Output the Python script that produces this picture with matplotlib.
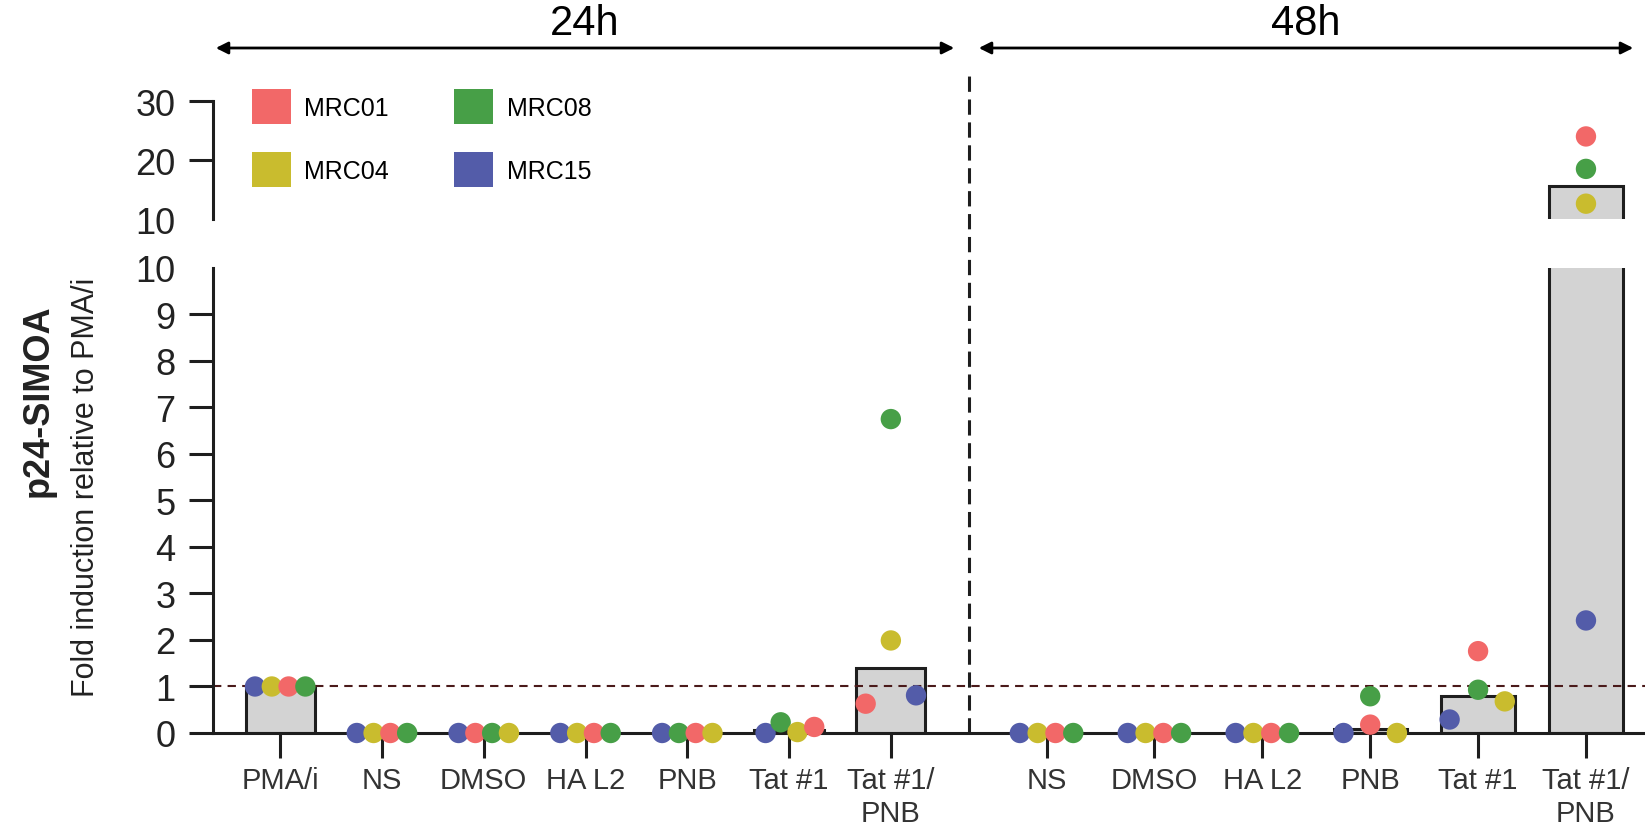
import numpy as np
import matplotlib
matplotlib.use("Agg")
import matplotlib.pyplot as plt
from matplotlib.patches import Patch, FancyArrowPatch
from matplotlib.lines import Line2D
from matplotlib.transforms import blended_transform_factory

plt.rcParams['font.family'] = ['Liberation Sans', 'DejaVu Sans']

# categories
cats_24h = ['PMA/i', 'NS', 'DMSO', 'HA L2', 'PNB', 'Tat #1', 'Tat #1/\nPNB']
cats_48h = ['NS', 'DMSO', 'HA L2', 'PNB', 'Tat #1', 'Tat #1/\nPNB']

donors = ['MRC01', 'MRC04', 'MRC08', 'MRC15']
donor_colors = ['#f26868', '#c9bc2e', '#479f47', '#535ca9']

# fold induction (p24 SIMOA) per donor
mrc01_24h = [1.0, 0, 0, 0, 0, 0.13, 0.63]
mrc04_24h = [1.0, 0, 0, 0, 0, 0.02, 1.99]
mrc08_24h = [1.0, 0, 0, 0, 0, 0.23, 6.75]
mrc15_24h = [1.0, 0, 0, 0, 0, 0.00, 0.81]
mrc01_48h = [0, 0, 0, 0.18, 1.76, 24.0]
mrc04_48h = [0, 0, 0, 0.00, 0.68, 12.6]
mrc08_48h = [0, 0, 0, 0.79, 0.93, 18.5]
mrc15_48h = [0, 0, 0, 0.00, 0.29, 2.42]

# horizontal swarm offsets (in point-widths) for MRC01, MRC04, MRC08, MRC15
swarm_24h = [(0.5, -0.5, 1.5, -1.5),
             (0.5, -0.5, 1.5, -1.5),
             (-0.5, 1.5, 0.5, -1.5),
             (0.5, -0.5, 1.5, -1.5),
             (0.5, 1.5, -0.5, -1.5),
             (1.5, 0.5, -0.5, -1.4),
             (-1.5, 0, 0, 1.5)]
swarm_48h = [(0.5, -0.5, 1.5, -1.5),
             (0.5, -0.5, 1.5, -1.5),
             (0.5, -0.5, 1.5, -1.5),
             (0, 1.5, 0, -1.5),
             (0, 1.5, 0, -1.6),
             (0, 0, 0, 0)]

vals_24h = np.array([mrc01_24h, mrc04_24h, mrc08_24h, mrc15_24h])
vals_48h = np.array([mrc01_48h, mrc04_48h, mrc08_48h, mrc15_48h])

step24, step48 = 1.0, 1.06
x24 = np.arange(len(cats_24h)) * step24
x48 = 7.53 + np.arange(len(cats_48h)) * step48
xsep = (x24[-1] + x48[0]) / 2

fig = plt.figure(figsize=(16.45, 8.29), dpi=100)
ax_lo = fig.add_axes([0.1295, 0.1146, 0.8705, 0.561])
ax_hi = fig.add_axes([0.1295, 0.7346, 0.8705, 0.1423])

xlim = (-0.66, 13.41)
dark = '#1e1e1e'
lw = 2.2
bar_c = '#d3d3d3'

med24 = np.median(vals_24h, axis=0)
med48 = np.median(vals_48h, axis=0)

for ax in (ax_lo, ax_hi):
    ax.bar(x24, med24, width=0.68 * step24, color=bar_c, edgecolor=dark, lw=lw, zorder=1)
    ax.bar(x48, med48, width=0.68 * step48, color=bar_c, edgecolor=dark, lw=lw, zorder=1)
    ax.set_xlim(*xlim)
    for s in ['top', 'right']:
        ax.spines[s].set_visible(False)
    ax.spines['left'].set_linewidth(lw)
    ax.spines['left'].set_color(dark)

# points, drawn left to right so the overlap looks like the original swarm
px, py, pc = [], [], []
for xs, vals, sw, st in [(x24, vals_24h, swarm_24h, step24), (x48, vals_48h, swarm_48h, step48)]:
    for j, xc in enumerate(xs):
        for d in range(4):
            px.append(xc + sw[j][d] * 0.165 * st)
            py.append(vals[d, j])
            pc.append(donor_colors[d])
order = np.argsort(px, kind='stable')
px = np.array(px)[order]
py = np.array(py)[order]
pc = np.array(pc)[order]
lo = py <= 10
ax_lo.scatter(px[lo], py[lo], s=215, c=pc[lo], edgecolors='none', zorder=3, clip_on=False)
ax_hi.scatter(px[~lo], py[~lo], s=215, c=pc[~lo], edgecolors='none', zorder=3, clip_on=False)

ax_lo.axhline(1, color='#4a1a1a', lw=1.5, ls=(0, (4, 3)), zorder=2)

# lower axis
ax_lo.set_ylim(0, 10)
ax_lo.set_yticks(range(11))
ax_lo.spines['bottom'].set_linewidth(lw)
ax_lo.spines['bottom'].set_color(dark)
ax_lo.set_xticks(np.concatenate([x24, x48]))
ax_lo.set_xticklabels(cats_24h + cats_48h, fontsize=21, color='#333333', linespacing=1.2)
ax_lo.tick_params(axis='x', direction='out', length=18, width=lw, color=dark, pad=6)
ax_lo.tick_params(axis='y', direction='out', length=17, width=lw, color=dark, pad=10,
                  labelsize=26, labelcolor='#222222')
ax_lo.yaxis.get_major_ticks()[-1].tick1line.set_visible(False)
ax_lo.set_yticks([10], minor=True)
ax_lo.tick_params(axis='y', which='minor', direction='inout', length=24, width=lw, color=dark)

# upper axis
ax_hi.set_ylim(10, 30)
ax_hi.set_yticks([10, 20, 30])
ax_hi.spines['bottom'].set_visible(False)
ax_hi.set_xticks([])
ax_hi.tick_params(axis='y', direction='out', length=17, width=lw, color=dark, pad=10,
                  labelsize=26, labelcolor='#222222')
ax_hi.yaxis.get_major_ticks()[0].tick1line.set_visible(False)
ax_hi.set_yticks([10], minor=True)
ax_hi.tick_params(axis='y', which='minor', direction='inout', length=24, width=lw, color=dark)

# legend
handles = [Patch(facecolor=c, edgecolor='none', label=d) for d, c in zip(donors, donor_colors)]
fig.legend(handles=handles, ncol=2, loc='upper left', bbox_to_anchor=(252 / 1645, 1 - 90 / 829),
           frameon=False, fontsize=18, handlelength=1.55, handleheight=1.8, borderpad=0,
           borderaxespad=0, handletextpad=0.55, labelspacing=1.1, columnspacing=2.6)

# separator between time points
tr = blended_transform_factory(ax_lo.transData, fig.transFigure)
fig.add_artist(Line2D([xsep, xsep], [0.1146, 0.912], transform=tr, color=dark, lw=2.2,
                      ls=(0, (5, 2.5))))

# time point arrows
yarr = 1 - 49 / 829
for x0, x1, lab in [(213 / 1645, 957 / 1645, '24h'), (976 / 1645, 1636 / 1645, '48h')]:
    fig.add_artist(FancyArrowPatch((x0, yarr), (x1, yarr), transform=fig.transFigure,
                                   arrowstyle='<|-|>', mutation_scale=18, lw=2, color='black'))
    fig.text((x0 + x1) / 2, 1 - 24 / 829, lab, ha='center', va='center', fontsize=30)

# y axis title
fig.text(38 / 1645, 1 - 401 / 829, 'p24-SIMOA', rotation=90, ha='center', va='center',
         fontsize=26, fontweight='bold', color='#222222')
fig.text(86 / 1645, 1 - 487 / 829, 'Fold induction relative to PMA/i', rotation=90,
         ha='center', va='center', fontsize=22, color='#222222')

fig.savefig('out.png', dpi=100)
